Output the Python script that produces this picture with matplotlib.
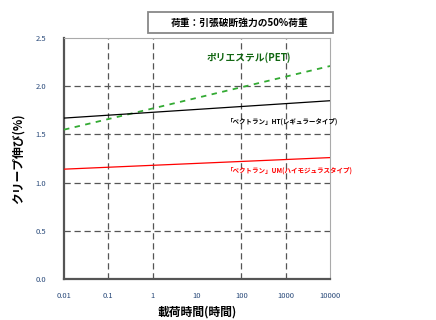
import matplotlib.pyplot as plt
from matplotlib.patches import Rectangle

plt.rcParams['font.family'] = ['Noto Sans CJK JP', 'DejaVu Sans']

## data
hours = [0.01, 0.1, 1, 10, 100, 1000, 10000]
creep_pet = [1.55, 1.66, 1.77, 1.88, 1.99, 2.10, 2.21]
creep_ht = [1.67, 1.70, 1.73, 1.76, 1.79, 1.82, 1.85]
creep_um = [1.14, 1.16, 1.18, 1.20, 1.22, 1.24, 1.26]

x_ticks = [0.01, 0.1, 1, 10, 100, 1000, 10000]
x_ticklabels = ["0.01", "0.1", "1", "10", "100", "1000", "10000"]
y_ticks = [0.0, 0.5, 1.0, 1.5, 2.0, 2.5]
grid_x = [0.1, 1, 100, 1000]
grid_y = [0.5, 1.0, 1.5, 2.0]

title = "荷重：引張破断強力の50%荷重"
lab_pet = "ポリエステル(PET)"
lab_ht = "「ベクトラン」HT(レギュラータイプ)"
lab_um = "「ベクトラン」UM(ハイモジュラスタイプ)"

## style
fs_tick = 5.5
fs_lab = 8.5
fs_txt = 4.7
col_grid = "#555555"
dash = (0, (5, 3))

fig = plt.figure(figsize=(4.36, 3.2), dpi=100)
ax = fig.add_axes([0.147, 0.128, 0.61, 0.753])

for gx in grid_x:
    ax.axvline(gx, color=col_grid, lw=0.9, linestyle=dash, zorder=1)
for gy in grid_y:
    ax.axhline(gy, color=col_grid, lw=0.9, linestyle=dash, zorder=1)

ax.plot(hours, creep_pet, color="#33aa33", lw=1.3, linestyle=(0, (3, 3)), zorder=3)
ax.plot(hours, creep_ht, color="black", lw=0.9, zorder=3)
ax.plot(hours, creep_um, color="red", lw=0.9, zorder=3)

ax.set_xscale("log")
ax.set_xlim(0.01, 10000)
ax.set_ylim(0, 2.5)
ax.set_xticks(x_ticks)
ax.set_xticklabels(x_ticklabels)
ax.minorticks_off()
ax.set_yticks(y_ticks)
ax.set_yticklabels([f"{v:.1f}" for v in y_ticks])
ax.tick_params(axis="x", labelsize=fs_tick, length=0, pad=9)
ax.tick_params(axis="y", labelsize=fs_tick, length=0, pad=13)
for t in ax.get_xticklabels() + ax.get_yticklabels():
    t.set_color("#2a4a7a")

for s in ["left", "bottom"]:
    ax.spines[s].set_color("#555555")
    ax.spines[s].set_linewidth(1.6)
for s in ["top", "right"]:
    ax.spines[s].set_color("#aaaaaa")
    ax.spines[s].set_linewidth(0.8)

ax.set_xlabel("載荷時間(時間)", fontsize=fs_lab, fontweight="bold", labelpad=4)
ax.set_ylabel("クリープ伸び(%)", fontsize=fs_lab, fontweight="bold", labelpad=8)

ax.text(0.535, 0.92, lab_pet, transform=ax.transAxes, fontsize=7,
        color="#116611", fontweight="bold", va="center")
ax.text(0.612, 0.655, lab_ht, transform=ax.transAxes, fontsize=fs_txt,
        color="black", fontweight="bold", va="center", clip_on=False)
ax.text(0.612, 0.45, lab_um, transform=ax.transAxes, fontsize=fs_txt,
        color="red", fontweight="bold", va="center", clip_on=False)

# title box
fig.patches.append(Rectangle((148 / 436, 1 - 33 / 320), 185 / 436, 21 / 320,
                             transform=fig.transFigure, fc="white", ec="#888888", lw=1.3))
fig.text(240 / 436, 1 - 22.5 / 320, title, fontsize=7, fontweight="bold",
         ha="center", va="center")

fig.savefig("out.png", dpi=100)
